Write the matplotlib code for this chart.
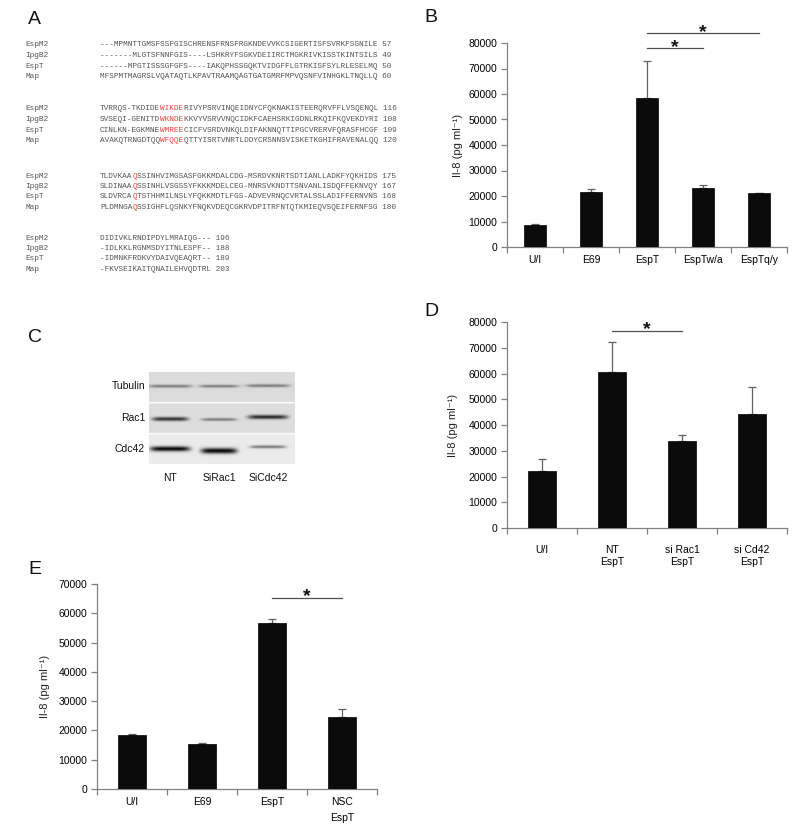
import numpy as np
import matplotlib
matplotlib.use("Agg")
import matplotlib.pyplot as plt

W, H = 800, 835
SANS = ['Liberation Sans', 'DejaVu Sans']
MONO = ['Liberation Mono', 'DejaVu Sans Mono']

# ---------------- data ----------------
seq_names = ["EspM2", "IpgB2", "EspT", "Map"]
seq_blocks = [
    ["---MPMNTTGMSFSSFGISCHRENSFRNSFRGKNDEVVKCSIGERTISFSVRKFSGNILE",
     "-------MLGTSFNNFGIS----LSHKRYFSGKVDEIIRCTMGKRIVKISSTKINTSILS",
     "------MPGTISSSGFGFS----IAKQPHSSGQKTVIDGFFLGTRKISFSYLRLESELMQ",
     "MFSPMTMAGRSLVQATAQTLKPAVTRAAMQAGTGATGMRFMPVQSNFVINHGKLTNQLLQ"],
    ["TVRRQS-TKDIDEWIKDERIVYPSRVINQEIDNYCFQKNAKISTEERQRVFFLVSQENQL",
     "SVSEQI-GENITDWKNDEKKVYVSRVVNQCIDKFCAEHSRKIGDNLRKQIFKQVEKDYRI",
     "CINLKN-EGKMNEWMREECICFVSRDVNKQLDIFAKNNQTTIPGCVRERVFQRASFHCGF",
     "AVAKQTRNGDTQQWFQQEQTTYISRTVNRTLDDYCRSNNSVISKETKGHIFRAVENALQQ"],
    ["TLDVKAAQSSINHVIMGSASFGKKMDALCDG-MSRDVKNRTSDTIANLLADKFYQKHIDS",
     "SLDINAAQSSINHLVSGSSYFKKKMDELCEG-MNRSVKNDTTSNVANLISDQFFEKNVQY",
     "SLDVRCAQTSTHHMILNSLYFQKKMDTLFGS-ADVEVRNQCVRTALSSLADIFFERNVNS",
     "PLDMNGAQSSIGHFLQSNKYFNQKVDEQCGKRVDPITRFNTQTKMIEQVSQEIFERNFSG"],
    ["DIDIVKLRNDIPDYLMRAIQG---",
     "-IDLKKLRGNMSDYITNLESPF--",
     "-IDMNKFRDKVYDAIVQEAQRT--",
     "-FKVSEIKAITQNAILEHVQDTRL"],
]
seq_counts = [[57, 49, 50, 60], [116, 108, 109, 120], [175, 167, 168, 180], [196, 188, 189, 203]]
# highlighted (red) residue column ranges per block: (start, end)
seq_red = [None, (13, 18), (7, 8), None]

blot_rows = ["Tubulin", "Rac1", "Cdc42"]
blot_lanes = ["NT", "SiRac1", "SiCdc42"]
# relative band darkness per row / lane
blot_intensity = [[0.45, 0.45, 0.45],
                  [0.78, 0.45, 0.82],
                  [0.97, 0.97, 0.50]]

b_cats = ["U/I", "E69", "EspT", "EspTw/a", "EspTq/y"]
b_vals = [8500, 21500, 58500, 23000, 21000]
b_err = [700, 1200, 14500, 1300, 0]

d_cats = ["U/I", "NT\nEspT", "si Rac1\nEspT", "si Cd42\nEspT"]
d_vals = [22200, 60400, 33800, 44100]
d_err = [4700, 11800, 2500, 10800]

e_cats = ["U/I", "E69", "EspT", "NSC\nEspT"]
e_vals = [18300, 15300, 56700, 24600]
e_err = [500, 500, 1500, 2700]

# ---------------- figure ----------------
fig = plt.figure(figsize=(W / 100, H / 100), dpi=100)
fig.patch.set_facecolor('white')

ov = fig.add_axes([0, 0, 1, 1])
ov.set_xlim(0, W)
ov.set_ylim(H, 0)
ov.axis('off')

# panel letters
for lab, (x, y) in {"A": (28, 20), "B": (424, 17), "C": (28, 338), "D": (424, 311), "E": (28, 569)}.items():
    ov.text(x, y, lab, fontsize=14, family=SANS, va='center', ha='left', color='#111')

# ---------------- panel A ----------------
cw = 4.65
x_name, x_seq = 25, 100
block_y = [45, 109, 176, 238]
row_dy = 10.5
fs_mono = cw / 0.6 * 72 / 100
SEQ_GRAY = '#555555'
SEQ_RED = '#e8413c'
for b, block in enumerate(seq_blocks):
    for r, s in enumerate(block):
        y = block_y[b] + r * row_dy
        ov.text(x_name, y, seq_names[r], family=MONO, fontsize=fs_mono, color=SEQ_GRAY, va='center')
        full = s + " " + str(seq_counts[b][r])
        if seq_red[b] is None:
            runs = [(0, full, SEQ_GRAY)]
        else:
            a, e = seq_red[b]
            runs = [(0, full[:a], SEQ_GRAY), (a, full[a:e], SEQ_RED), (e, full[e:], SEQ_GRAY)]
        for start, txt, col in runs:
            ov.text(x_seq + start * cw, y, txt, family=MONO, fontsize=fs_mono,
                    color=col, va='center', ha='left')

# ---------------- panel C (blot) ----------------
bx0, bx1, by0, by1 = 149, 295, 372, 464
nx, ny = (bx1 - bx0) * 2, (by1 - by0) * 2
xs = np.linspace(bx0, bx1, nx)
ys = np.linspace(by0, by1, ny)
X, Y = np.meshgrid(xs, ys)
img = np.ones((ny, nx))
strip_edges = [(372, 402), (403.5, 433), (434.5, 464)]
strip_bg = [0.86, 0.87, 0.92]
band_y = [[386, 386, 385.5], [419, 419.5, 417], [449, 451, 447]]
band_sy = [[1.5, 1.4, 1.5], [2.0, 1.5, 2.1], [2.5, 2.8, 1.5]]
band_hw = [[22, 20, 22], [18, 18, 20], [20, 18, 18]]
lane_x = [170, 219, 268]
for r, (y0, y1) in enumerate(strip_edges):
    m = (Y >= y0) & (Y <= y1)
    dark = np.zeros_like(X)
    for l in range(3):
        px = np.exp(-((X - lane_x[l]) / band_hw[r][l]) ** 6)
        py = np.exp(-((Y - band_y[r][l]) / band_sy[r][l]) ** 2)
        dark = np.maximum(dark, blot_intensity[r][l] * px * py)
    val = strip_bg[r] * (1 - dark)
    img[m] = val[m]
ov.imshow(img, cmap='gray', vmin=0, vmax=1, extent=[bx0, bx1, by1, by0], aspect='auto',
          interpolation='bilinear', zorder=1)
label_y = [386, 418, 449]
for r, name in enumerate(blot_rows):
    ov.text(145, label_y[r], name, family=SANS, fontsize=7.5, ha='right', va='center', color='#111')
for l, name in enumerate(blot_lanes):
    ov.text(lane_x[l], 478, name, family=SANS, fontsize=7.5, ha='center', va='center', color='#111')
ov.set_xlim(0, W)
ov.set_ylim(H, 0)


# ---------------- bar panels ----------------
def pix_axes(left, right, bottom, top):
    return fig.add_axes([left / W, 1 - bottom / H, (right - left) / W, (bottom - top) / H])


def bar_panel(ax, cats, vals, errs, ymax, lab_pad, linesp):
    n = len(cats)
    x = np.arange(n)
    ax.bar(x, vals, width=0.4, color='#0b0b0b', edgecolor='#000', linewidth=0.5, zorder=3)
    ax.errorbar(x, vals, yerr=[np.zeros(n), errs], fmt='none', ecolor='#606060',
                elinewidth=0.9, capsize=3, capthick=0.9, zorder=2)
    ax.set_xlim(-0.5, n - 0.5)
    ax.set_ylim(0, ymax)
    ax.set_yticks(np.arange(0, ymax + 1, 10000))
    ax.set_xticks(x)
    ax.set_xticklabels(cats, family=SANS, fontsize=7.5, linespacing=linesp)
    ax.set_xticks(np.arange(-0.5, n, 1), minor=True)
    ax.tick_params(axis='x', which='major', length=0, pad=lab_pad)
    ax.tick_params(axis='x', which='minor', length=4, direction='out', color='#808080', width=0.9)
    ax.tick_params(axis='y', length=4, direction='out', color='#808080', width=0.9, pad=3,
                   labelsize=7.5)
    for t in ax.get_yticklabels():
        t.set_family(SANS)
    for s in ['top', 'right']:
        ax.spines[s].set_visible(False)
    for s in ['left', 'bottom']:
        ax.spines[s].set_color('#808080')
        ax.spines[s].set_linewidth(0.9)
    ax.set_facecolor('none')
    ax.set_ylabel("Il-8 (pg ml⁻¹)", family=SANS, fontsize=8, color='#222')


def sig(ax, x0, x1, y, ystar):
    ax.plot([x0, x1], [y, y], color='#505050', lw=0.9, clip_on=False)
    ax.text((x0 + x1) / 2, ystar, "*", ha='center', va='center', fontsize=14, fontweight='bold',
            family=SANS, color='#111', clip_on=False)


axB = pix_axes(507, 787, 247, 43)
bar_panel(axB, b_cats, b_vals, b_err, 80000, 6, 1.2)
axB.yaxis.set_label_coords(-0.157, 0.5)
sig(axB, 2, 3, 78000, 78300)
sig(axB, 2, 4, 83800, 84100)

axD = pix_axes(507, 787, 528, 322)
bar_panel(axD, d_cats, d_vals, d_err, 80000, 12, 1.25)
axD.yaxis.set_label_coords(-0.175, 0.5)
sig(axD, 1, 2, 76500, 76900)

axE = pix_axes(97, 377, 789, 584)
bar_panel(axE, e_cats, e_vals, e_err, 70000, 6, 1.7)
axE.yaxis.set_label_coords(-0.168, 0.5)
sig(axE, 2, 3, 65200, 65600)

fig.savefig("out.png", dpi=100, facecolor='white')
